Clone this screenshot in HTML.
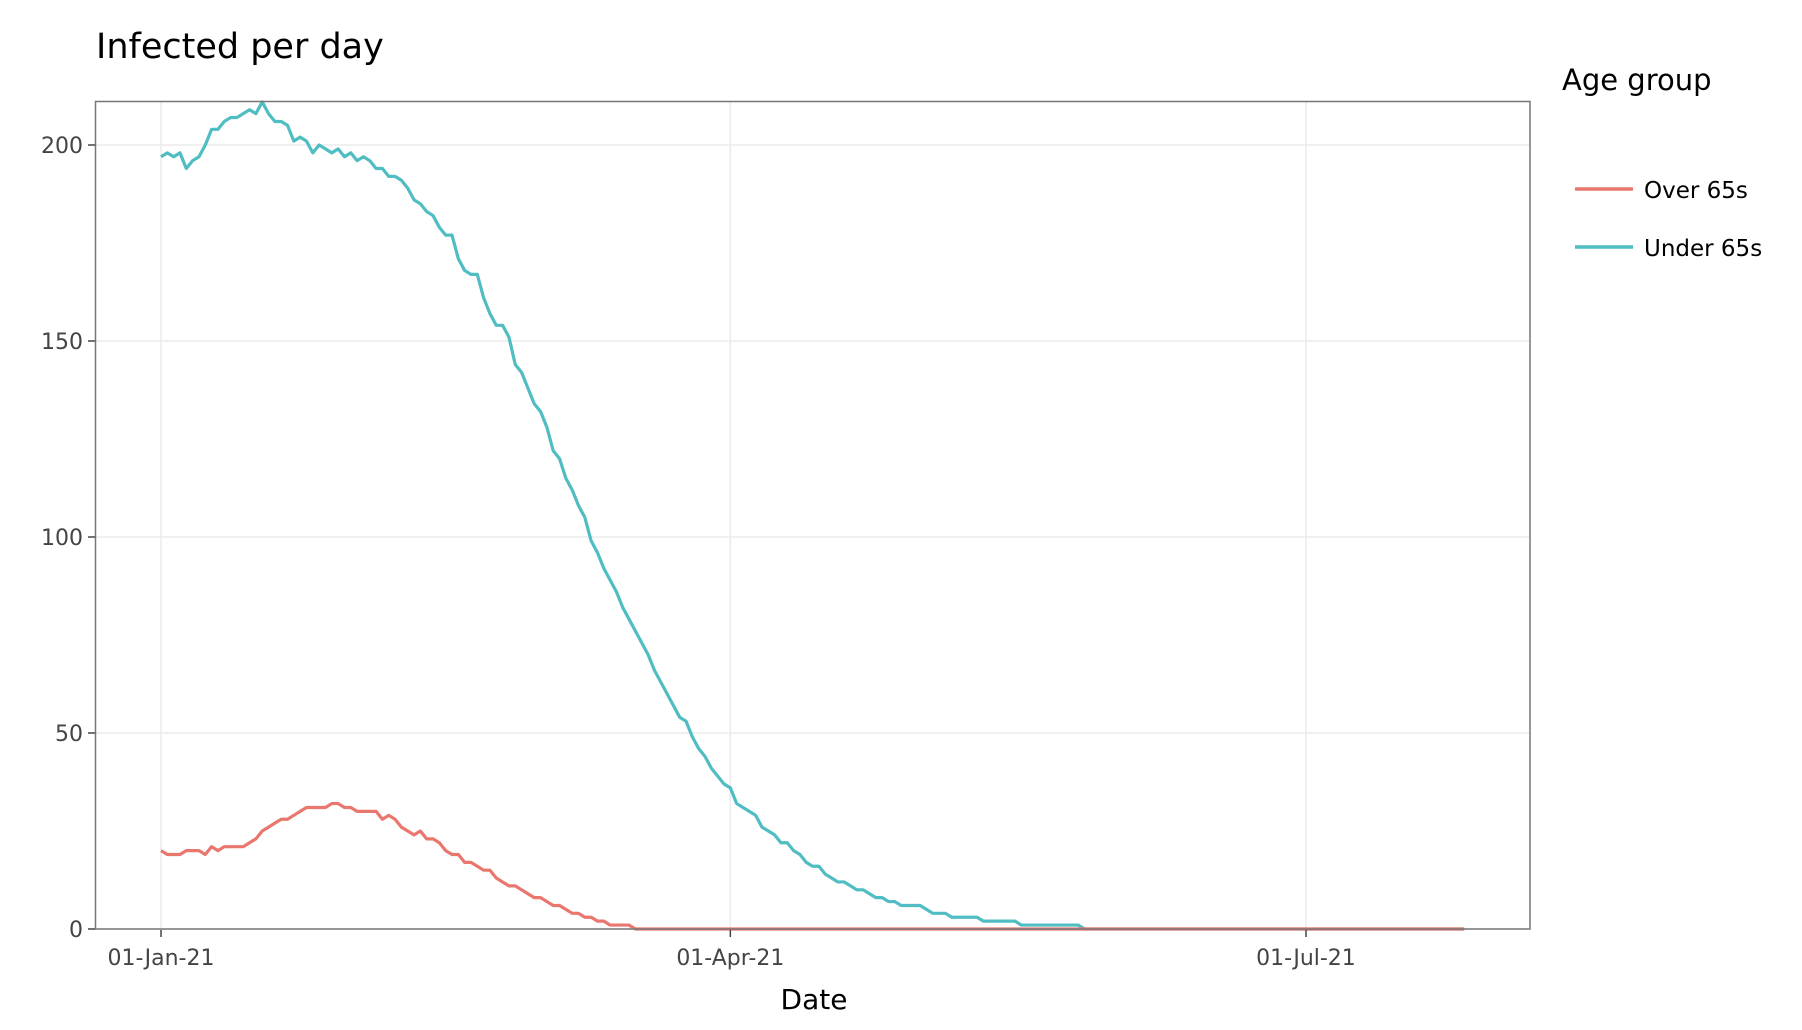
<!DOCTYPE html>
<html><head><meta charset="utf-8">
<style>
html,body{margin:0;padding:0;background:#fff;}
svg{display:block;font-family:"DejaVu Sans","Liberation Sans",sans-serif;}
</style></head>
<body>
<svg id="chart" width="1802" height="1030" viewBox="0 0 1802 1030" xmlns="http://www.w3.org/2000/svg">
  <text x="96" y="58" font-size="35" fill="#000">Infected per day</text>
  <g id="grid"></g>
  <g id="series"></g>
  <rect x="95.5" y="101.5" width="1434.5" height="827.5" fill="none" stroke="#777" stroke-width="1.5"/>
  <g id="axes"></g>
  <text x="814" y="1009" font-size="28" text-anchor="middle" fill="#000">Date</text>
  <text x="1562" y="90" font-size="29" fill="#000">Age group</text>
  <g>
    <line x1="1575" y1="189" x2="1633" y2="189" stroke="#E9776E" stroke-width="3.5"/>
    <text x="1644" y="198" font-size="23" fill="#000">Over 65s</text>
  </g>
  <g>
    <line x1="1575" y1="247" x2="1633" y2="247" stroke="#4FBDC2" stroke-width="3.5"/>
    <text x="1644" y="256" font-size="23" fill="#000">Under 65s</text>
  </g>
</svg>
<script>
const under65 = [197,198,197,198,194,196,197,200,204,204,206,207,207,208,209,208,211,208,206,206,205,201,202,201,198,200,199,198,199,197,198,196,197,196,194,194,192,192,191,189,186,185,183,182,179,177,177,171,168,167,167,161,157,154,154,151,144,142,138,134,132,128,122,120,115,112,108,105,99,96,92,89,86,82,79,76,73,70,66,63,60,57,54,53,49,46,44,41,39,37,36,32,31,30,29,26,25,24,22,22,20,19,17,16,16,14,13,12,12,11,10,10,9,8,8,7,7,6,6,6,6,5,4,4,4,3,3,3,3,3,2,2,2,2,2,2,1,1,1,1,1,1,1,1,1,1,0,0,0,0,0,0,0,0,0,0,0,0,0,0,0,0,0,0,0,0,0,0,0,0,0,0,0,0,0,0,0,0,0,0,0,0,0,0,0,0,0,0,0,0,0,0,0,0,0,0,0,0,0,0,0,0,0,0,0,0,0];
const over65 = [20,19,19,19,20,20,20,19,21,20,21,21,21,21,22,23,25,26,27,28,28,29,30,31,31,31,31,32,32,31,31,30,30,30,30,28,29,28,26,25,24,25,23,23,22,20,19,19,17,17,16,15,15,13,12,11,11,10,9,8,8,7,6,6,5,4,4,3,3,2,2,1,1,1,1,0,0,0,0,0,0,0,0,0,0,0,0,0,0,0,0,0,0,0,0,0,0,0,0,0,0,0,0,0,0,0,0,0,0,0,0,0,0,0,0,0,0,0,0,0,0,0,0,0,0,0,0,0,0,0,0,0,0,0,0,0,0,0,0,0,0,0,0,0,0,0,0,0,0,0,0,0,0,0,0,0,0,0,0,0,0,0,0,0,0,0,0,0,0,0,0,0,0,0,0,0,0,0,0,0,0,0,0,0,0,0,0,0,0,0,0,0,0,0,0,0,0,0,0,0,0,0,0,0,0,0,0];
const yTicks = [0,50,100,150,200];
const xTickDays = [0,90,181];
const xTickLabels = ["01-Jan-21","01-Apr-21","01-Jul-21"];

const NS="http://www.w3.org/2000/svg";
const X0=161, PXDAY=6.326, Y0=929, PXUNIT=3.92;
const PL=95.5, PR=1530, PT=101.5, PB=929;
const x=d=>X0+d*PXDAY, y=v=>Y0-v*PXUNIT;
function mk(tag,attrs,parent){const e=document.createElementNS(NS,tag);for(const k in attrs)e.setAttribute(k,attrs[k]);parent.appendChild(e);return e;}
const grid=document.getElementById('grid'), axes=document.getElementById('axes'), series=document.getElementById('series');
yTicks.forEach(v=>{
  const g=mk('line',{x1:PL,x2:PR,y1:y(v),y2:y(v),stroke:'#ebebeb','stroke-width':1.5},grid);
  
  
  const t=mk('line',{x1:88,x2:95,y1:y(v),y2:y(v),stroke:'#444','stroke-width':1.5},axes);
  
  
  const l=mk('text',{x:83,y:y(v)+8,'font-size':22,'text-anchor':'end',fill:'#444'},axes);
  
  
  l.textContent=v;
});
xTickDays.forEach((d,i)=>{
  const g=mk('line',{x1:x(d),x2:x(d),y1:PT,y2:PB,stroke:'#ebebeb','stroke-width':1.5},grid);
  
  
  const t=mk('line',{x1:x(d),x2:x(d),y1:930,y2:937,stroke:'#444','stroke-width':1.5},axes);
  
  
  const l=mk('text',{x:x(d),y:965,'font-size':22,'text-anchor':'middle',fill:'#444'},axes);
  
  
  l.textContent=xTickLabels[i];
});
function line(data,color,name){
  const p=mk('polyline',{points:data.map((v,i)=>x(i)+','+y(v)).join(' '),fill:'none',stroke:color,'stroke-width':3.2,'stroke-linejoin':'round'},series);
  
  
}
line(under65,'#4FBDC2','line-under-65s');
line(over65,'#E9776E','line-over-65s');
</script>
</body></html>
